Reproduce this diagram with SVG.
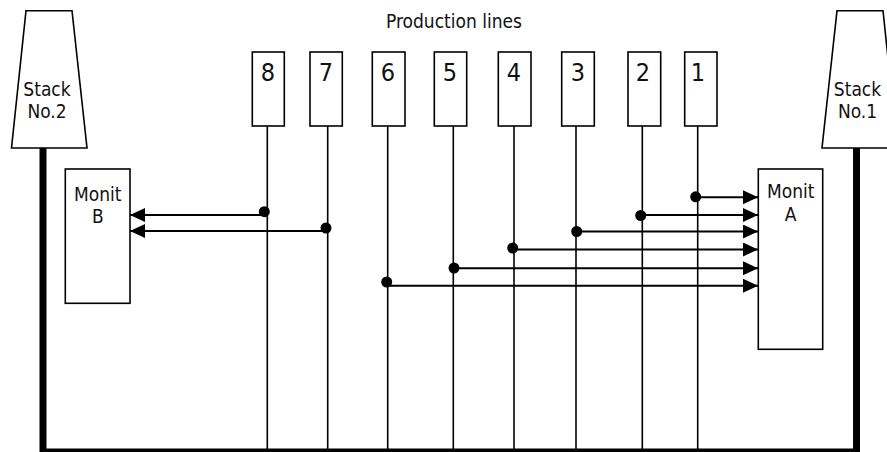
<svg xmlns="http://www.w3.org/2000/svg" width="887" height="452" viewBox="0 0 887 452">
<defs>
<style>
.t{font-family:"DejaVu Sans Condensed","DejaVu Sans","Liberation Sans",sans-serif;font-stretch:condensed;font-size:19px;fill:#111;text-anchor:middle}
.d{font-size:25px}
.box{fill:#fff;stroke:#000;stroke-width:1.6}
.v{stroke:#000;stroke-width:1.6;fill:none}
.h{stroke:#000;stroke-width:2;fill:none}
.dot{fill:#000}
</style>
<marker id="ah" markerUnits="userSpaceOnUse" markerWidth="16" markerHeight="15" refX="15" refY="7" orient="auto">
<path d="M0,0 L15,7 L0,14 z" fill="#000"/>
</marker>
</defs>
<rect width="887" height="452" fill="#fff"/>
<text class="t" x="454" y="27.5">Production lines</text>
<g id="frame">
<path d="M43,148 V452 H856.5 V148" fill="none" stroke="#000" stroke-width="7"/>
</g>
<g id="stack2">
<path class="box" d="M26,10.7 H72 L87,148 H11.5 Z"/>
<text class="t" x="47" y="96">Stack</text>
<text class="t" x="47" y="117.7">No.2</text>
</g>
<g id="stack1">
<path class="box" d="M837,10.7 H883 L897.5,148 H822 Z"/>
<text class="t" x="857.5" y="96">Stack</text>
<text class="t" x="857.5" y="117.7">No.1</text>
</g>
<g id="monitB">
<rect class="box" x="65.3" y="169" width="64.7" height="134.3"/>
<text class="t" x="97.8" y="200.7">Monit</text>
<text class="t" x="97.8" y="223.3">B</text>
</g>
<g id="monitA">
<rect class="box" x="758.3" y="169" width="64.4" height="180.3"/>
<text class="t" x="790.7" y="198.3">Monit</text>
<text class="t" x="790.7" y="220.5">A</text>
</g>
<g id="connectors">
<path class="v" d="M267.3,126 V449"/>
<path class="v" d="M327.7,126 V449"/>
<path class="v" d="M387.7,126 V449"/>
<path class="v" d="M453.3,126 V449"/>
<path class="v" d="M514,126 V449"/>
<path class="v" d="M576,126 V449"/>
<path class="v" d="M642.3,126 V449"/>
<path class="v" d="M697.7,126 V449"/>
<path class="h" d="M264.3,215 H130" marker-end="url(#ah)"/>
<path class="h" d="M326,231 H130" marker-end="url(#ah)"/>
<path class="h" d="M695.7,197.3 H758" marker-end="url(#ah)"/>
<path class="h" d="M640.7,215 H758" marker-end="url(#ah)"/>
<path class="h" d="M576.7,231.5 H758" marker-end="url(#ah)"/>
<path class="h" d="M512.7,249.5 H758" marker-end="url(#ah)"/>
<path class="h" d="M454,268.3 H758" marker-end="url(#ah)"/>
<path class="h" d="M386.7,285.7 H758" marker-end="url(#ah)"/>
<circle class="dot" cx="264.3" cy="211.7" r="5.5"/>
<circle class="dot" cx="326" cy="228" r="5.5"/>
<circle class="dot" cx="386.7" cy="282" r="5.5"/>
<circle class="dot" cx="454" cy="268" r="5.5"/>
<circle class="dot" cx="512.7" cy="248" r="5.5"/>
<circle class="dot" cx="576.7" cy="231.5" r="5.5"/>
<circle class="dot" cx="640.7" cy="215.5" r="5.5"/>
<circle class="dot" cx="695.7" cy="196.8" r="5.5"/>
</g>
<g id="line8"><rect class="box" x="252.3" y="52" width="32" height="74"/><text class="t d" x="268" y="81">8</text></g>
<g id="line7"><rect class="box" x="310" y="52" width="32.3" height="74"/><text class="t d" x="326" y="81">7</text></g>
<g id="line6"><rect class="box" x="372.3" y="52" width="32.7" height="74"/><text class="t d" x="388" y="81">6</text></g>
<g id="line5"><rect class="box" x="434.3" y="52" width="32.4" height="74"/><text class="t d" x="450" y="81">5</text></g>
<g id="line4"><rect class="box" x="498.3" y="52" width="32.7" height="74"/><text class="t d" x="514" y="81">4</text></g>
<g id="line3"><rect class="box" x="561.7" y="52" width="32.6" height="74"/><text class="t d" x="578" y="81">3</text></g>
<g id="line2"><rect class="box" x="628" y="52" width="32.7" height="74"/><text class="t d" x="643" y="81">2</text></g>
<g id="line1"><rect class="box" x="684.7" y="52" width="32.3" height="74"/><text class="t d" x="698" y="81">1</text></g>
</svg>
